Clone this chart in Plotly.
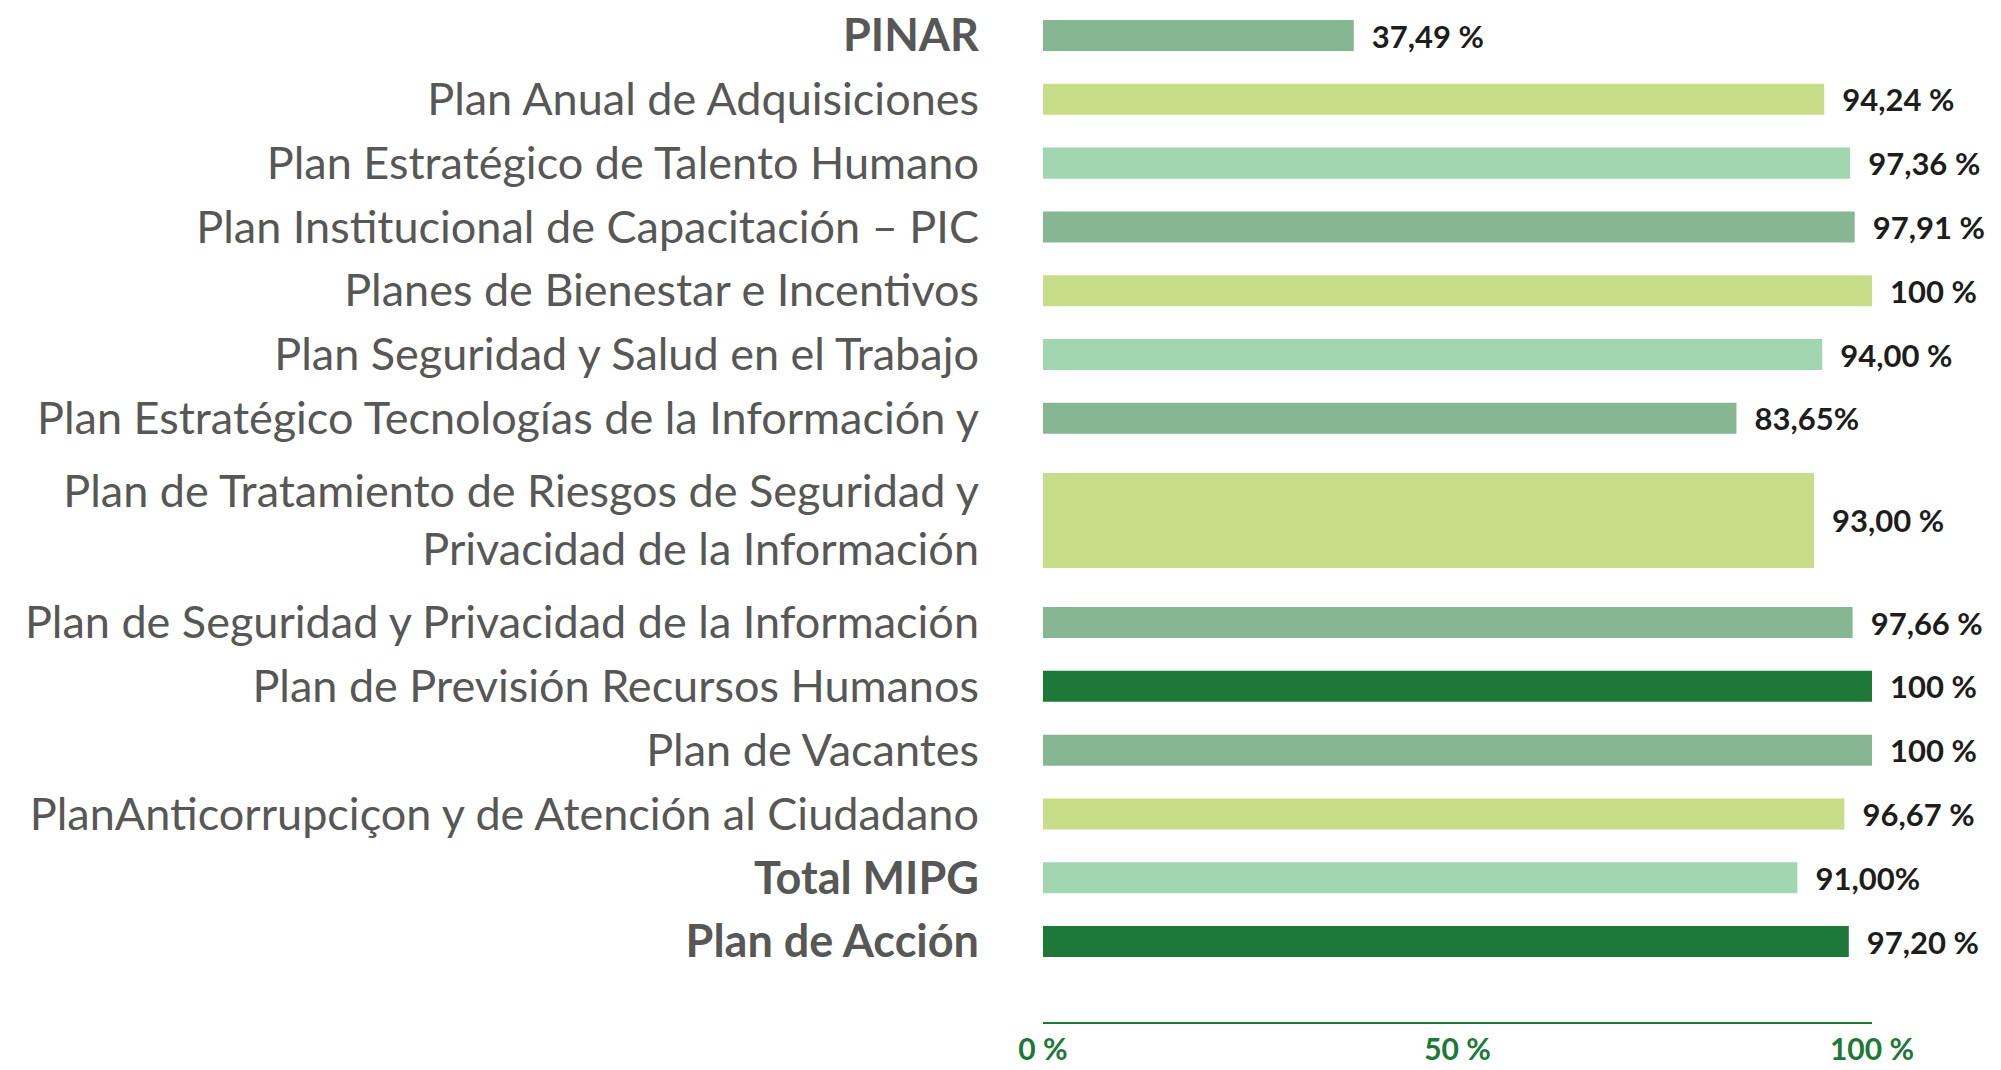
import plotly.graph_objects as go

# ---- data ----
categories = [
    "PINAR",
    "Plan Anual de Adquisiciones",
    "Plan Estratégico de Talento Humano",
    "Plan Institucional de Capacitación – PIC",
    "Planes de Bienestar e Incentivos",
    "Plan Seguridad y Salud en el Trabajo",
    "Plan Estratégico Tecnologías de la Información y",
    "Plan de Tratamiento de Riesgos de Seguridad y Privacidad de la Información",
    "Plan de Seguridad y Privacidad de la Información",
    "Plan de Previsión Recursos Humanos",
    "Plan de Vacantes",
    "PlanAnticorrupciçon y de Atención al Ciudadano",
    "Total MIPG",
    "Plan de Acción",
]
values = [37.49, 94.24, 97.36, 97.91, 100, 94.00, 83.65, 93.00, 97.66, 100, 100, 96.67, 91.00, 97.20]
value_labels = ["37,49 %", "94,24 %", "97,36 %", "97,91 %", "100 %", "94,00 %", "83,65%",
                "93,00 %", "97,66 %", "100 %", "100 %", "96,67 %", "91,00%", "97,20 %"]
tick_labels = [
    "<b>PINAR</b>",
    "Plan Anual de Adquisiciones",
    "Plan Estratégico de Talento Humano",
    "Plan Institucional de Capacitación – PIC",
    "Planes de Bienestar e Incentivos",
    "Plan Seguridad y Salud en el Trabajo",
    "Plan Estratégico Tecnologías de la Información y",
    "Plan de Tratamiento de Riesgos de Seguridad y<br>Privacidad de la Información",
    "Plan de Seguridad y Privacidad de la Información",
    "Plan de Previsión Recursos Humanos",
    "Plan de Vacantes",
    "PlanAnticorrupciçon y de Atención al Ciudadano",
    "<b>Total MIPG</b>",
    "<b>Plan de Acción</b>",
]
x_tick_vals = [0, 50, 100]
x_tick_text = ["0 %", "50 %", "100 %"]

# ---- styles ----
MID = "#86b792"
LIME = "#c7dd88"
MINT = "#a1d6b0"
DARK = "#1e7838"
bar_colors = [MID, LIME, MINT, MID, LIME, MINT, MID, LIME, MID, DARK, MID, LIME, MINT, DARK]

# row band heights (in row units): the two-line row takes more room
row_span = [1.0] * len(categories)
row_span[7] = 2.2
bar_thickness = [0.486] * len(categories)
bar_thickness[7] = 1.49

# row centres derived from the band heights
row_pos = [0.0]
for i in range(1, len(categories)):
    row_pos.append(row_pos[-1] + (row_span[i - 1] + row_span[i]) / 2)

fig = go.Figure(
    go.Bar(
        y=row_pos,
        x=values,
        orientation="h",
        marker=dict(color=bar_colors, line=dict(width=0)),
        width=bar_thickness,
        text=["\u00a0\u00a0" + t for t in value_labels],
        textposition="outside",
        constraintext="none",
        cliponaxis=False,
        textfont=dict(family="Lato", size=31, color="#1d1d1b", weight="bold"),
        customdata=categories,
        hovertemplate="%{customdata}: %{x}<extra></extra>",
    )
)

# page body has an 8px margin, so the figure is sized to fill the rest
fig.update_layout(
    width=1993,
    height=1062,
    margin=dict(l=1035, r=129, t=0, b=48),
    paper_bgcolor="white",
    plot_bgcolor="white",
    showlegend=False,
    font=dict(family="Lato"),
)

fig.update_yaxes(
    range=[15.46, -0.431],
    tickvals=row_pos,
    ticktext=tick_labels,
    tickfont=dict(family="Lato", size=45, color="#575756"),
    ticks="outside",
    ticklen=54,
    tickcolor="rgba(0,0,0,0)",
    ticklabeloverflow="allow",
    showgrid=False,
    zeroline=False,
    showline=False,
    automargin=False,
)

fig.update_xaxes(
    range=[0, 100],
    tickvals=x_tick_vals,
    ticktext=x_tick_text,
    tickfont=dict(family="Lato", size=30, color=DARK, weight="bold"),
    ticks="outside",
    ticklen=0,
    tickcolor="rgba(0,0,0,0)",
    ticklabeloverflow="allow",
    showgrid=False,
    zeroline=False,
    showline=True,
    linecolor=DARK,
    linewidth=2,
    automargin=False,
)

fig.write_html("out.html")
